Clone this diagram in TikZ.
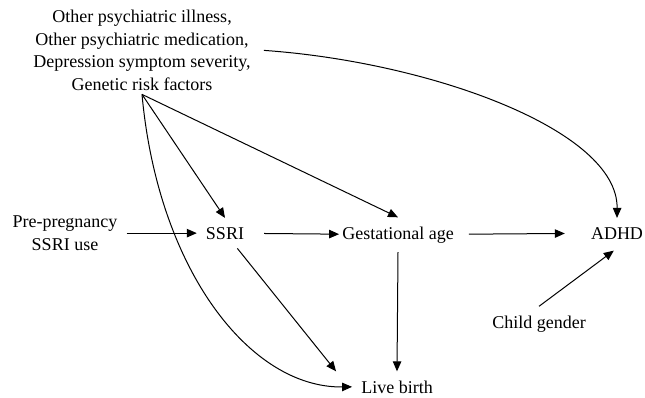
\documentclass[tikz,border=0pt]{standalone}
\usepackage{fontspec}
\setmainfont{Liberation Serif}
\usetikzlibrary{positioning,arrows.meta}

\begin{document}
\begin{tikzpicture}[x=1pt, y=-1pt, every node/.style={align=center, font=\fontsize{18}{22.5}\selectfont, inner sep=9pt},
  arr/.style={-{Triangle[length=10pt,width=8.5pt]}, line width=1pt}]
\useasboundingbox (0,0) rectangle (645,397);
\node (conf) [anchor=base, inner ysep=4pt] at (142,90) {Other psychiatric illness,\\Other psychiatric medication,\\Depression symptom severity,\\Genetic risk factors};
\node (pre) [anchor=base] at (65,250) {Pre-pregnancy\\SSRI use};
\node (ssri) [anchor=base] at (225,239) {SSRI};
\node (gest) [anchor=base] at (398,239) {Gestational age};
\node (adhd) [anchor=base] at (617,239) {ADHD};
\node (child) [anchor=base] at (539,328) {Child gender};
\node (live) [anchor=base] at (397,393) {Live birth};

\draw[arr] (pre.east |- ssri) -- (ssri.west);
\draw[arr, shorten <=11pt, shorten >=-6pt] (ssri) -- (gest);
\draw[arr, shorten <=6pt, shorten >=17pt] (gest) -- (adhd);
\draw[arr] (conf.south) -- (ssri.north);
\draw[arr] (conf.south) -- (gest.north);
\draw[arr] (conf.south) .. controls (158,270) and (250,388) .. (live.west);
\draw[arr, shorten <=4pt] (conf.east) .. controls (430,62) and (618,130) .. (adhd.north);
\draw[arr] (ssri.-51) -- ([xshift=-16pt]live.north west);
\draw[arr] (gest.south) -- (live.north);
\draw[arr, shorten >=4pt] (child.north) -- (adhd.south);
\end{tikzpicture}
\end{document}
